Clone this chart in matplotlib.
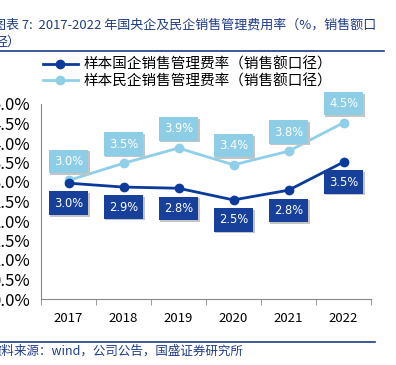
import matplotlib
matplotlib.use("Agg")
import matplotlib.pyplot as plt

plt.rcParams['font.family'] = ['Noto Sans CJK SC', 'DejaVu Sans']

years = ["2017", "2018", "2019", "2020", "2021", "2022"]
state_rate = [2.97, 2.87, 2.84, 2.54, 2.79, 3.51]
private_rate = [3.04, 3.48, 3.87, 3.44, 3.79, 4.52]
state_name = "样本国企销售管理费率（销售额口径）"
private_name = "样本民企销售管理费率（销售额口径）"

dark = "#0a3a9c"
dark_box = "#17409a"
light = "#8fcfe8"
light_box = "#8dcde6"
title_col = "#1f3c88"


def main():
	fig = plt.figure(figsize=(3.96, 3.65), dpi=100)
	ax = fig.add_axes([41 / 396, 1 - 299 / 365, 330 / 396, 195 / 365])
	x = list(range(len(years)))

	ax.plot(x, private_rate, color=light, lw=2, marker="o", ms=6, label=private_name, zorder=3)
	ax.plot(x, state_rate, color=dark, lw=2, marker="o", ms=6, label=state_name, zorder=3)

	# data labels with a small shadow
	for xi, v in zip(x, state_rate):
		for off, fc, tc in [((1.2, -15.6), "#c4c4c4", "#c4c4c4"), ((0, -14.4), dark_box, "white")]:
			ax.annotate(f"{v:.1f}%", (xi, v), xytext=off, textcoords="offset points",
				ha="center", va="center", fontsize=8.3, color=tc, family="DejaVu Sans",
				bbox=dict(boxstyle="square,pad=0.45", fc=fc, ec="none"), zorder=4)
	for xi, v in zip(x, private_rate):
		for off, fc, tc in [((1.2, 12.6), "#c4c4c4", "#c4c4c4"), ((0, 13.8), light_box, "white")]:
			ax.annotate(f"{v:.1f}%", (xi, v), xytext=off, textcoords="offset points",
				ha="center", va="center", fontsize=8.3, color=tc, family="DejaVu Sans",
				bbox=dict(boxstyle="square,pad=0.45", fc=fc, ec="none"), zorder=4)

	ax.set_xlim(-0.5, 5.5)
	ax.set_ylim(0, 5)
	ax.set_yticks([i * 0.5 for i in range(11)])
	ax.set_yticklabels([f"{i * 0.5:.1f}%" for i in range(11)])
	ax.set_xticks(x)
	ax.set_xticklabels(years)
	ax.set_xticks([i - 0.5 for i in range(7)], minor=True)
	ax.tick_params(axis="x", which="major", length=0, pad=9, labelsize=9.5)
	ax.tick_params(axis="x", which="minor", length=4, color="#888888")
	ax.tick_params(axis="y", length=0, pad=8, labelsize=12)
	for s in ["top", "right"]:
		ax.spines[s].set_visible(False)
	for s in ["left", "bottom"]:
		ax.spines[s].set_color("#888888")

	h, l = ax.get_legend_handles_labels()
	fig.legend(h[::-1], l[::-1], loc="upper left", bbox_to_anchor=(37 / 396, 1 - 52 / 365),
		frameon=False, fontsize=10.5, handlelength=2.4, labelspacing=0.15, handletextpad=0.4,
		borderaxespad=0)

	fig.text(-7 / 396, 1 - 25 / 365, "图表 7:  2017-2022 年国央企及民企销售管理费用率（%，销售额口",
		color=title_col, fontsize=9.4, style="italic", va="center")
	fig.text(-5 / 396, 1 - 42 / 365, "径）", color=title_col, fontsize=9.4, style="italic", va="center")
	fig.add_artist(plt.Line2D([0, 384 / 396], [1 - 51 / 365] * 2, color=title_col, lw=1.2))
	fig.add_artist(plt.Line2D([0, 375 / 396], [1 - 342 / 365] * 2, color=title_col, lw=1.2))
	fig.text(-11 / 396, 1 - 351 / 365, "资料来源：wind，公司公告，国盛证券研究所",
		color=title_col, fontsize=9, style="italic", va="center")

	fig.savefig("out.png", dpi=100)


if __name__ == "__main__":
	main()
